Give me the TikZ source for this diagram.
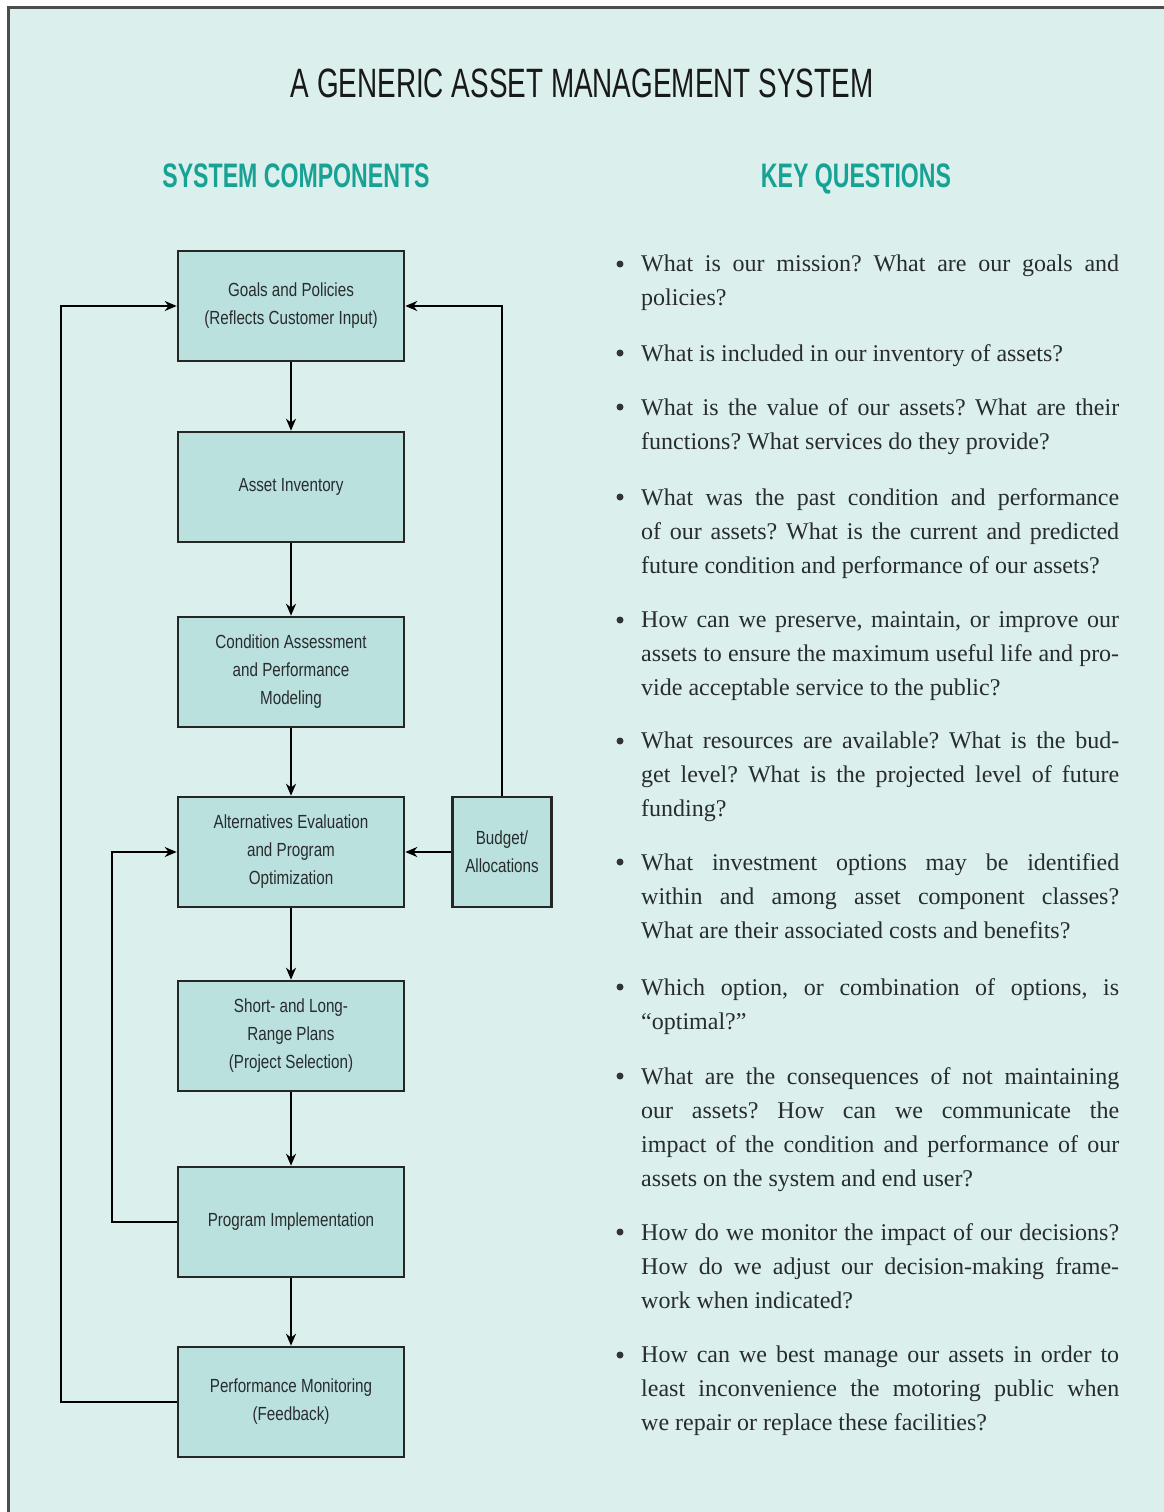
\documentclass[tikz,border=0pt]{standalone}
\usepackage{fontspec}
\setmainfont{Liberation Serif}
\newfontfamily\headfont[FakeStretch=0.68]{Liberation Sans}
\newfontfamily\boxfont[FakeStretch=0.8]{Liberation Sans}
\usetikzlibrary{arrows.meta}
\frenchspacing

\definecolor{panelbg}{RGB}{219,239,237}
\definecolor{boxfill}{RGB}{186,225,221}
\definecolor{headteal}{RGB}{24,162,150}
\definecolor{inkgray}{RGB}{40,44,46}

\tikzset{
  component/.style={draw=black!85, line width=2.6pt, fill=boxfill,
    minimum width=226pt, minimum height=110pt, inner sep=0pt,
    align=center, text=inkgray, font=\boxfont\fontsize{19}{28}\selectfont},
  flow/.style={line width=2.4pt, -{Stealth[length=12pt,width=10pt]}},
  question/.style={anchor=north west, inner sep=0pt, text width=478pt,
    align=justify, text=inkgray, font=\fontsize{24}{34}\selectfont},
  heading/.style={anchor=base, text=headteal, font=\headfont\bfseries\fontsize{34}{40}\selectfont}
}

\begin{document}
\begin{tikzpicture}[x=1pt,y=-1pt]
  \useasboundingbox (0,0) rectangle (1164,1512);
  \clip (0,0) rectangle (1164,1512);

  % panel
  \fill[panelbg] (8,8) rectangle (1190,1540);
  \draw[line width=3pt, black!70] (8,1540) -- (8,8) -- (1190,8);

  % headings
  \node[anchor=base, text=black!90, font=\headfont\fontsize{41}{48}\selectfont] (title) at (582,97) {A GENERIC ASSET MANAGEMENT SYSTEM};
  \node[heading] (comphead) at (296,187) {SYSTEM COMPONENTS};
  \node[heading] (keyhead) at (856,187) {KEY QUESTIONS};

  % system components
  \node[component] (goals) at (291,306) {Goals and Policies\\(Reflects Customer Input)};
  \node[component] (inventory) at (291,487) {Asset Inventory};
  \node[component] (condition) at (291,672) {Condition Assessment\\and Performance\\Modeling};
  \node[component] (alternatives) at (291,852) {Alternatives Evaluation\\and Program\\Optimization};
  \node[component] (plans) at (291,1036) {Short- and Long-\\Range Plans\\(Project Selection)};
  \node[component] (implement) at (291,1222) {Program Implementation};
  \node[component] (monitor) at (291,1402) {Performance Monitoring\\(Feedback)};
  \node[component, minimum width=99pt] (budget) at (502,852) {Budget/\\Allocations};

  \draw[flow] (goals) -- (inventory);
  \draw[flow] (inventory) -- (condition);
  \draw[flow] (condition) -- (alternatives);
  \draw[flow] (alternatives) -- (plans);
  \draw[flow] (plans) -- (implement);
  \draw[flow] (implement) -- (monitor);

  \draw[flow] (budget.west) -- (alternatives.east);
  \draw[flow] (budget.north) |- (goals.east);
  \draw[flow] (implement.west) -- ++(-65,0) |- (alternatives.west);
  \draw[flow] (monitor.west) -- ++(-116,0) |- (goals.west);

  % key questions
  \node[question] (q1) at (641,255) {What is our mission? What are our goals and\linebreak policies?};
  \node[question] (q2) at (641,344) {What is included in our inventory of assets?};
  \node[question] (q3) at (641,398) {What is the value of our assets? What are their\linebreak functions? What services do they provide?};
  \node[question] (q4) at (641,488) {What was the past condition and performance\linebreak of our assets? What is the current and predicted\linebreak future condition and performance of our assets?};
  \node[question] (q5) at (641,611) {How can we preserve, maintain, or improve our\linebreak assets to ensure the maximum useful life and pro-\linebreak vide acceptable service to the public?};
  \node[question] (q6) at (641,732) {What resources are available? What is the bud-\linebreak get level? What is the projected level of future\linebreak funding?};
  \node[question] (q7) at (641,853) {What investment options may be identified\linebreak within and among asset component classes?\linebreak What are their associated costs and benefits?};
  \node[question] (q8) at (641,978) {Which option, or combination of options, is\linebreak “optimal?”};
  \node[question] (q9) at (641,1067) {What are the consequences of not maintaining\linebreak our assets? How can we communicate the\linebreak impact of the condition and performance of our\linebreak assets on the system and end user?};
  \node[question] (q10) at (641,1223) {How do we monitor the impact of our decisions?\linebreak How do we adjust our decision-making frame-\linebreak work when indicated?};
  \node[question] (q11) at (641,1346) {How can we best manage our assets in order to\linebreak least inconvenience the motoring public when\linebreak we repair or replace these facilities?};

  \foreach \y in {264,353,407,497,620,741,862,987,1076,1232,1355}
    \fill[black!80] (620,\y) circle (3.5);
\end{tikzpicture}
\end{document}
